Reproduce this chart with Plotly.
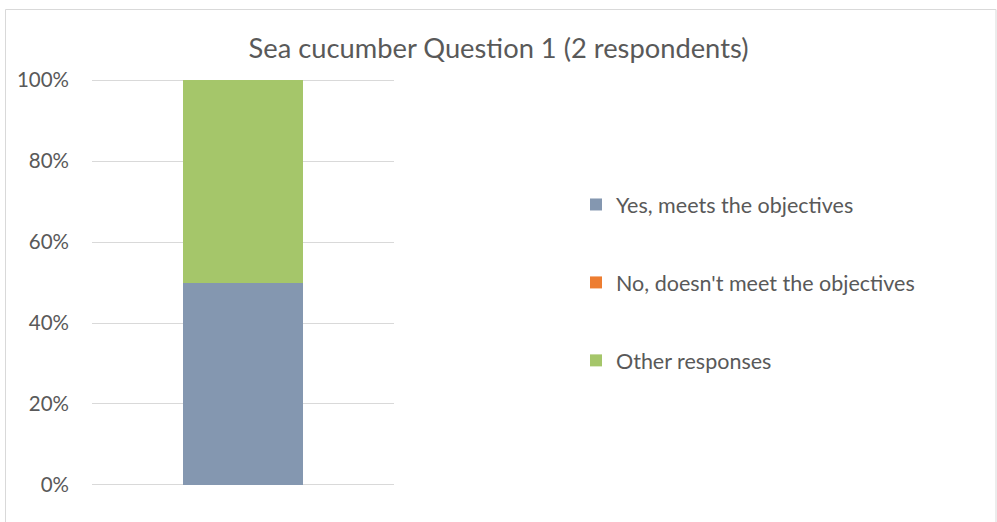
import plotly.graph_objects as go

# Survey responses, share of respondents per answer
categories = ["Sea cucumber"]
series_names = ["Yes, meets the objectives", "No, doesn't meet the objectives", "Other responses"]
series_values = [[0.5], [0.0], [0.5]]
series_colors = ["#8497B0", "#ED7D31", "#A5C66A"]
y_ticks = [0, 0.2, 0.4, 0.6, 0.8, 1.0]
y_tick_labels = ["0%", "20%", "40%", "60%", "80%", "100%"]

FONT = "Lato, 'Liberation Sans', Arial, sans-serif"
TEXT_COLOR = "#595959"

fig = go.Figure()
for i, (name, vals, color) in enumerate(zip(series_names, series_values, series_colors)):
    fig.add_trace(go.Bar(
        x=categories, y=vals, name=name,
        marker=dict(color=color, line=dict(width=0)),
        legendgroup=f"g{i}",
    ))

# plot area in pixels: x 92..394, y 78..487 (small pad so edge gridlines are kept)
L, R, T, B = 92, 603, 78, 35
pw, ph = 997 - L - R, 522 - T - B
y_pad = 0.005

fig.update_layout(
    width=997, height=522,
    margin=dict(l=L, r=R, t=T, b=B, pad=0),
    barmode="stack", bargap=0.6,
    paper_bgcolor="white", plot_bgcolor="white",
    font=dict(family=FONT, color=TEXT_COLOR, size=21),
    title=dict(text="Sea cucumber Question 1 (2 respondents)",
               x=0.5, xanchor="center", y=1 - 48 / 522, yanchor="middle",
               font=dict(size=27.3, color=TEXT_COLOR, family=FONT)),
    xaxis=dict(showticklabels=False, showgrid=False, zeroline=False,
               showline=False, ticks=""),
    yaxis=dict(range=[-y_pad, 1 + y_pad], tickvals=y_ticks, ticktext=y_tick_labels,
               showgrid=True, gridcolor="#D9D9D9", gridwidth=1,
               zeroline=False, showline=False, ticks="", ticklen=0,
               ticklabelstandoff=22,
               tickfont=dict(size=20.5, color=TEXT_COLOR), automargin=False),
    legend=dict(x=(576 - L) / pw, xanchor="left", y=(522 - B - 184) / ph, yanchor="top",
                traceorder="grouped", tracegroupgap=47,
                font=dict(size=21.5, color=TEXT_COLOR), itemwidth=30,
                bgcolor="rgba(0,0,0,0)"),
    showlegend=True,
)

# chart frame
fig.add_shape(type="rect", xref="paper", yref="paper",
              x0=(5.5 - L) / pw, x1=(996 - L) / pw,
              y0=-(530 - (522 - B)) / ph, y1=((522 - B) - 9.5) / ph,
              line=dict(color="#D9D9D9", width=1), fillcolor="rgba(0,0,0,0)",
              layer="below")

fig.write_html("out.html")
